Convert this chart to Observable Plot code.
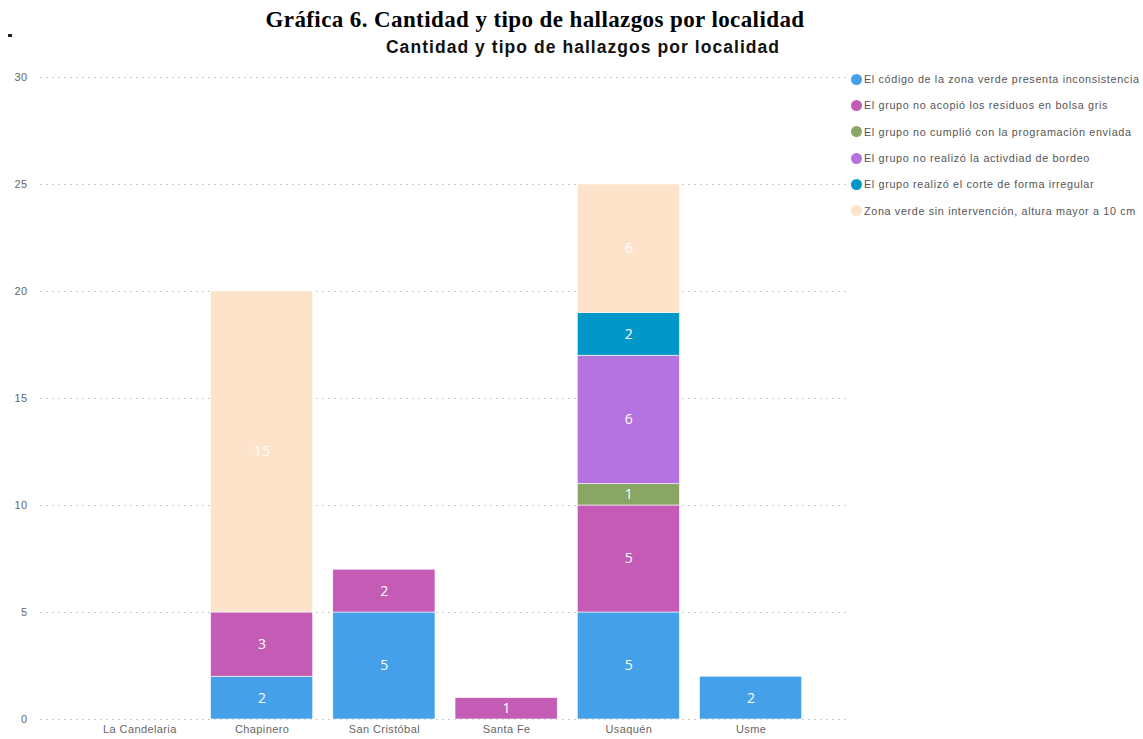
<!DOCTYPE html>
<html>
<head>
<meta charset="utf-8">
<script src="https://cdn.jsdelivr.net/npm/d3@7"></script>
<script src="https://cdn.jsdelivr.net/npm/@observablehq/plot@0.6"></script>
<style>
  body { margin: 0; background: #fff; width: 1143px; height: 739px; overflow: hidden; position: relative; }
  #title { position: absolute; left: 0; width: 1070px; top: 7px; text-align: center; font-family: "Liberation Serif", "Times New Roman", serif; font-weight: bold; font-size: 23px; letter-spacing: 0.4px; color: #000; line-height: 26px; }
  #subtitle { position: absolute; left: 0; width: 1166px; top: 37px; text-align: center; font-family: "Liberation Sans", Arial, sans-serif; font-weight: bold; font-size: 17.5px; letter-spacing: 1.05px; color: #111; line-height: 20px; }
  #chart { position: absolute; left: 0; top: 60px; }
  #legend { position: absolute; left: 851px; top: 66px; font-family: "Liberation Sans", Arial, sans-serif; font-size: 10.8px; letter-spacing: 0.65px; color: #555; }
  .item { display: flex; align-items: center; height: 26.3px; white-space: nowrap; }
  .sw { width: 11px; height: 11px; border-radius: 50%; margin-right: 2px; flex: none; }
  #mark { position: absolute; left: 8px; top: 34px; width: 4px; height: 3px; background: #222; }
</style>
</head>
<body>
<div id="title">Gráfica 6. Cantidad y tipo de hallazgos por localidad</div>
<div id="subtitle">Cantidad y tipo de hallazgos por localidad</div>
<div id="mark"></div>
<div id="chart"></div>
<div id="legend"></div>
<script>
const localidades = ["La Candelaria", "Chapinero", "San Cristóbal", "Santa Fe", "Usaquén", "Usme"];
const series = [
  "El código de la zona verde presenta inconsistencia",
  "El grupo no acopió los residuos en bolsa gris",
  "El grupo no cumplió con la programación enviada",
  "El grupo no realizó la activdiad de bordeo",
  "El grupo realizó el corte de forma irregular",
  "Zona verde sin intervención, altura mayor a 10 cm"
];
const colores = ["#44A1E9", "#C45CB6", "#89A665", "#B473DF", "#0197C9", "#FDE3CA"];
const codigo       = [0, 2, 5, 0, 5, 2];
const acopio       = [0, 3, 2, 1, 5, 0];
const programacion = [0, 0, 0, 0, 1, 0];
const bordeo       = [0, 0, 0, 0, 6, 0];
const corte        = [0, 0, 0, 0, 2, 0];
const zona         = [0, 15, 0, 0, 6, 0];
const yTicks = [0, 5, 10, 15, 20, 25, 30];

const valores = [codigo, acopio, programacion, bordeo, corte, zona];
const data = [];
series.forEach((s, i) => {
  localidades.forEach((l, j) => {
    if (valores[i][j] > 0) data.push({localidad: l, serie: s, valor: valores[i][j]});
  });
});

const plot = Plot.plot({
  width: 850,
  height: 679,
  marginLeft: 40,
  marginRight: 0,
  marginTop: 17,
  marginBottom: 20,
  style: {fontFamily: "'Liberation Sans', Arial, sans-serif", fontSize: "11px", color: "#666", background: "transparent", letterSpacing: "0.4px"},
  x: {domain: localidades, paddingInner: 0.164, paddingOuter: 0.395, round: false, label: null, tickSize: 0, tickPadding: 6},
  y: {domain: [0, 30], ticks: yTicks, label: null, tickSize: 0, tickPadding: 13},
  color: {domain: series, range: colores},
  marks: [
    Plot.ruleY(yTicks, {stroke: "#bbb", strokeDasharray: "1.5,4.5", strokeWidth: 1}),
    Plot.barY(data, Plot.stackY({x: "localidad", y: "valor", fill: "serie", z: "serie", stroke: "white", strokeWidth: 0.6})),
    Plot.text(data, Plot.stackY({x: "localidad", y: "valor", z: "serie", text: "valor", fill: "white", fontSize: 14, fontFamily: "'Open Sans', sans-serif"}))
  ]
});
document.getElementById("chart").appendChild(plot);

const legend = document.getElementById("legend");
series.forEach((s, i) => {
  const d = document.createElement("div");
  d.className = "item";
  d.innerHTML = `<span class="sw" style="background:${colores[i]}"></span><span>${s}</span>`;
  legend.appendChild(d);
});
</script>
</body>
</html>
